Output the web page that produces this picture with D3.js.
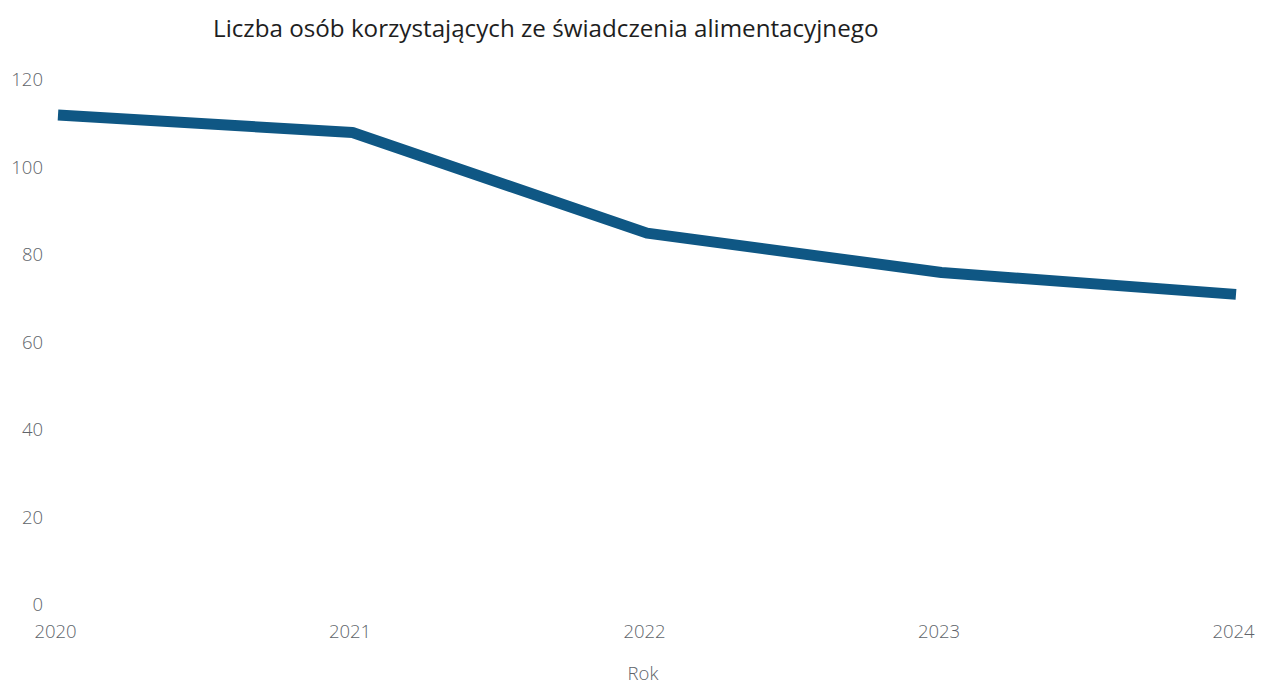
<!DOCTYPE html>
<html>
<head>
<meta charset="utf-8">
<script src="https://cdn.jsdelivr.net/npm/d3@7"></script>
<style>
  html, body { margin: 0; padding: 0; background: #ffffff; }
  svg { display: block; }
</style>
</head>
<body>
<svg id="chart" width="1261" height="686"></svg>
<script>
// Recipients of the maintenance fund benefit, by year
const years = ["2020", "2021", "2022", "2023", "2024"];
const recipients = [112, 108, 85, 76, 71];
const yTicks = [0, 20, 40, 60, 80, 100, 120];

const titleText = "Liczba osób korzystających ze świadczenia alimentacyjnego";
const xTitle = "Rok";

const svg = d3.select("#chart");

const x = d3.scalePoint().domain(years).range([58, 1236]);
const y = d3.scaleLinear().domain([0, 120]).range([605, 80]);

const labelFont = "'Open Sans', 'Noto Sans', sans-serif";
const labelColor = "#60646a";

// Title
svg.append("text")
  .attr("x", 213)
  .attr("y", 37)
  .attr("font-family", labelFont)
  .attr("font-size", 24.2)
  .attr("fill", "#1e1e1e")
  .text(titleText);

// Y axis (labels only)
const yAxis = d3.axisLeft(y).tickValues(yTicks).tickSize(0).tickPadding(0);
const gy = svg.append("g").attr("transform", "translate(43,0)").call(yAxis);
gy.select(".domain").remove();
gy.selectAll("text")
  .attr("font-family", labelFont)
  .attr("font-weight", 300)
  .attr("font-size", 18.5)
  .attr("fill", labelColor);

// X axis (labels only)
const xAxis = d3.axisBottom(x).tickSize(0).tickPadding(0);
const gx = svg.append("g").attr("transform", "translate(-3,625)").call(xAxis);
gx.select(".domain").remove();
gx.selectAll("text")
  .attr("font-family", labelFont)
  .attr("font-weight", 300)
  .attr("font-size", 18.5)
  .attr("fill", labelColor);

// X axis title
svg.append("text")
  .attr("x", 643)
  .attr("y", 680)
  .attr("text-anchor", "middle")
  .attr("font-family", labelFont)
  .attr("font-weight", 300)
  .attr("font-size", 18.5)
  .attr("fill", labelColor)
  .text(xTitle);

// Series line
const line = d3.line()
  .x((d, i) => x(years[i]))
  .y(d => y(d))
  .curve(d3.curveLinear);

svg.append("path")
  .datum(recipients)
  .attr("d", line)
  .attr("fill", "none")
  .attr("stroke", "#0f5784")
  .attr("stroke-width", 11)
  .attr("stroke-linejoin", "round")
  .attr("stroke-linecap", "butt");
</script>
</body>
</html>
